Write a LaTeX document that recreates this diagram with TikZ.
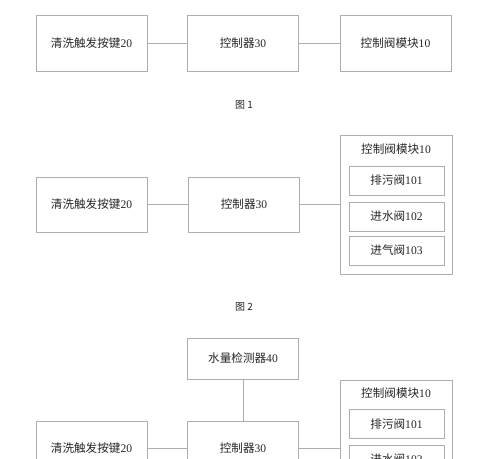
\documentclass[tikz,border=0pt]{standalone}
\usepackage{fontspec}
\setmainfont{Liberation Serif}
\newfontfamily\cjk{Noto Sans CJK SC}
\newcommand{\lbl}[2]{{\cjk #1}#2}
\begin{document}
\begin{tikzpicture}[x=1pt,y=-1pt,
  box/.style={draw=black!32, line width=0.9pt, text=black!85, font=\fontsize{11.6pt}{13pt}\selectfont, inner sep=0pt},
  bigbox/.style={box, minimum width=111pt, minimum height=56pt},
  subbox/.style={box, minimum width=95pt, minimum height=29pt},
  wire/.style={draw=black!32, line width=0.9pt},
  figcap/.style={text=black!85, font=\cjk\fontsize{10pt}{12pt}\selectfont}]
\useasboundingbox (0,0) rectangle (500,458);
\clip (0,0) rectangle (500,458);
\fill[white] (0,0) rectangle (500,458);
% Figure 1
\node[bigbox] (k1) at (91.5,43) {\lbl{清洗触发按键}{20}};
\node[bigbox] (c1) at (243,43) {\lbl{控制器}{30}};
\node[bigbox] (m1) at (395.5,43) {\lbl{控制阀模块}{10}};
\draw[wire] (k1) -- (c1);
\draw[wire] (c1) -- (m1);
\node[figcap] (f1) at (244,105) {图 1};
% Figure 2
\node[box, minimum width=112pt, minimum height=139pt] (m2) at (396,204.5) {};
\node[box, draw=none] (m2t) at (396,149) {\lbl{控制阀模块}{10}};
\node[subbox] (s21) at (396.5,180.5) {\lbl{排污阀}{101}};
\node[subbox] (s22) at (396.5,216.5) {\lbl{进水阀}{102}};
\node[subbox] (s23) at (396.5,250.5) {\lbl{进气阀}{103}};
\node[bigbox, minimum height=55pt] (k2) at (91.5,204.5) {\lbl{清洗触发按键}{20}};
\node[bigbox, minimum height=55pt] (c2) at (244,204.5) {\lbl{控制器}{30}};
\draw[wire] (k2) -- (c2);
\draw[wire] (c2.east) -- (c2.east -| m2.west);
\node[figcap] (f2) at (244,307) {图 2};
% Figure 3
\node[bigbox, minimum height=41pt] (w3) at (243,358.5) {\lbl{水量检测器}{40}};
\node[box, minimum width=112pt, minimum height=139pt] (m3) at (396,449.5) {};
\node[box, draw=none] (m3t) at (396,393) {\lbl{控制阀模块}{10}};
\node[subbox] (s31) at (396.5,424) {\lbl{排污阀}{101}};
\node[subbox] (s32) at (396.5,459.5) {\lbl{进水阀}{102}};
\node[bigbox, minimum height=55pt] (k3) at (91.5,448.5) {\lbl{清洗触发按键}{20}};
\node[bigbox, minimum height=55pt] (c3) at (243,448.5) {\lbl{控制器}{30}};
\draw[wire] (k3) -- (c3);
\draw[wire] (c3.east) -- (c3.east -| m3.west);
\draw[wire] (w3) -- (c3);
\end{tikzpicture}
\end{document}
